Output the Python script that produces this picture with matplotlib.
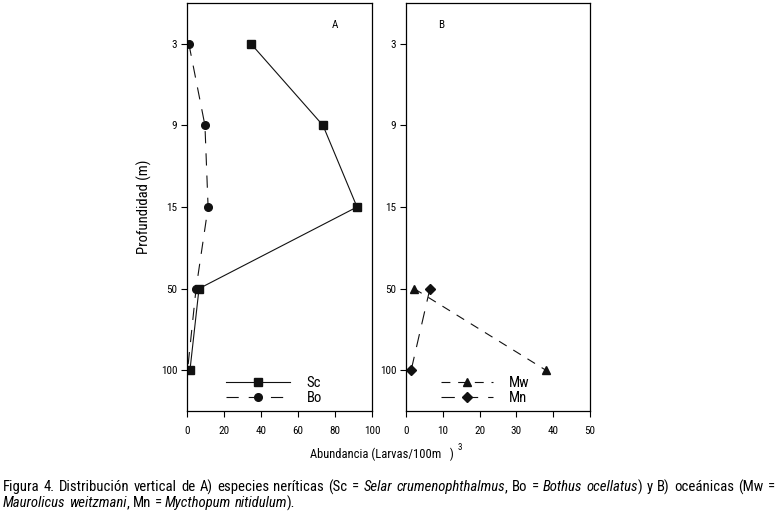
import matplotlib
matplotlib.use("Agg")
import matplotlib.pyplot as plt

# depth levels are plotted as equally spaced categories
depths = ["3", "9", "15", "50", "100"]
sc = [34.6, 73.5, 91.9, 6.5, 1.6]
bo = [1.0, 9.7, 11.4, 4.9, 0.3]
mw_depths = ["50", "100"]
mw = [2.2, 38.0]
mn = [6.5, 1.4]

plt.rcParams['font.family'] = ['Roboto Condensed', 'DejaVu Sans']

fig = plt.figure(figsize=(7.78, 5.13), dpi=100)
W, H = 778, 513

def add_axes(x0, x1, y0, y1):
    return fig.add_axes([x0 / W, 1 - y1 / H, (x1 - x0) / W, (y1 - y0) / H])

axA = add_axes(187, 372, 3, 411)
axB = add_axes(406, 590, 3, 411)

pos = {d: i for i, d in enumerate(depths)}
ypos = [pos[d] for d in depths]
ypos_b = [pos[d] for d in mw_depths]

axA.plot(sc, ypos, color='#111111', lw=0.8, marker='s', ms=5.5, label='Sc')
axA.plot(bo, ypos, color='#111111', lw=0.8, ls=(0, (11, 9)), marker='o', ms=5.5, label='Bo')
axB.plot(mw, ypos_b, color='#111111', lw=0.8, ls=(0, (8, 7)), marker='^', ms=5.5, label='Mw')
axB.plot(mn, ypos_b, color='#111111', lw=0.8, ls=(0, (12, 9)), marker='D', ms=5, label='Mn')

for ax, xmax, step in [(axA, 100, 20), (axB, 50, 10)]:
    ax.set_xlim(0, xmax)
    ax.set_xticks(range(0, xmax + 1, step))
    ax.set_ylim(4.5, -0.5)
    ax.set_yticks(range(len(depths)))
    ax.set_yticklabels(depths)
    ax.tick_params(direction='out', length=4, width=0.8, labelsize=8)
    ax.tick_params(axis='y', pad=3)
    ax.tick_params(axis='x', pad=7)
    for s in ax.spines.values():
        s.set_linewidth(0.9)

axA.text(0.80, 0.945, "A", transform=axA.transAxes, fontsize=8, ha='center', va='center')
axB.text(0.19, 0.945, "B", transform=axB.transAxes, fontsize=8, ha='center', va='center')

for ax, anchor, hl in [(axA, (0.165, -0.007), 4.4), (axB, (0.14, -0.007), 3.6)]:
    ax.legend(loc='lower left', bbox_to_anchor=anchor, frameon=False, handlelength=hl,
              handletextpad=1.1, labelspacing=0.05, fontsize=10.5, borderaxespad=0.2)

axA.set_ylabel("Profundidad (m)", fontsize=10.5, labelpad=6)
fig.text(310 / W, 1 - 454 / H, "Abundancia (Larvas/100m   )", fontsize=9, ha='left', va='center')
fig.text(460 / W, 1 - 447 / H, "3", fontsize=6.5, ha='center', va='center')

# caption: words placed one by one so the species names can be italic
# and the first line can be justified like the printed figure
N, I = 'normal', 'italic'
line1 = [[("Figura", N)], [("4.", N)], [("Distribución", N)], [("vertical", N)], [("de", N)],
         [("A)", N)], [("especies", N)], [("neríticas", N)], [("(Sc", N)],
         [("=", N)], [("Selar", I)], [("crumenophthalmus", I), (",", N)], [("Bo", N)], [("=", N)],
         [("Bothus", I)], [("ocellatus", I), (")", N)], [("y", N)], [("B)", N)],
         [("oceánicas", N)], [("(Mw", N)], [("=", N)]]
line2 = [[("Maurolicus", I)], [("weitzmani", I), (",", N)], [("Mn", N)], [("=", N)],
         [("Mycthopum", I)], [("nitidulum", I), (").", N)]]

renderer = fig.canvas.get_renderer()
cap_size = 10.6

def word_width(word):
    w = 0
    for txt, style in word:
        t = fig.text(0, 0, txt, fontsize=cap_size, style=style)
        w += t.get_window_extent(renderer=renderer).width
        t.remove()
    return w

def place_line(words, y_px, x0=3, x1=None):
    widths = [word_width(w) for w in words]
    if x1 is None:
        t = fig.text(0, 0, "a a", fontsize=cap_size)
        gap = t.get_window_extent(renderer=renderer).width
        t.remove()
        t = fig.text(0, 0, "aa", fontsize=cap_size)
        gap -= t.get_window_extent(renderer=renderer).width
        t.remove()
    else:
        gap = (x1 - x0 - sum(widths)) / (len(words) - 1)
    x = x0
    for word, w in zip(words, widths):
        xx = x
        for txt, style in word:
            t = fig.text(xx / W, 1 - y_px / H, txt, fontsize=cap_size, style=style,
                         ha='left', va='center')
            xx += t.get_window_extent(renderer=renderer).width
        x += w + gap

place_line(line1, 487, 3, 775)
place_line(line2, 503)

fig.savefig("out.png", dpi=100)
